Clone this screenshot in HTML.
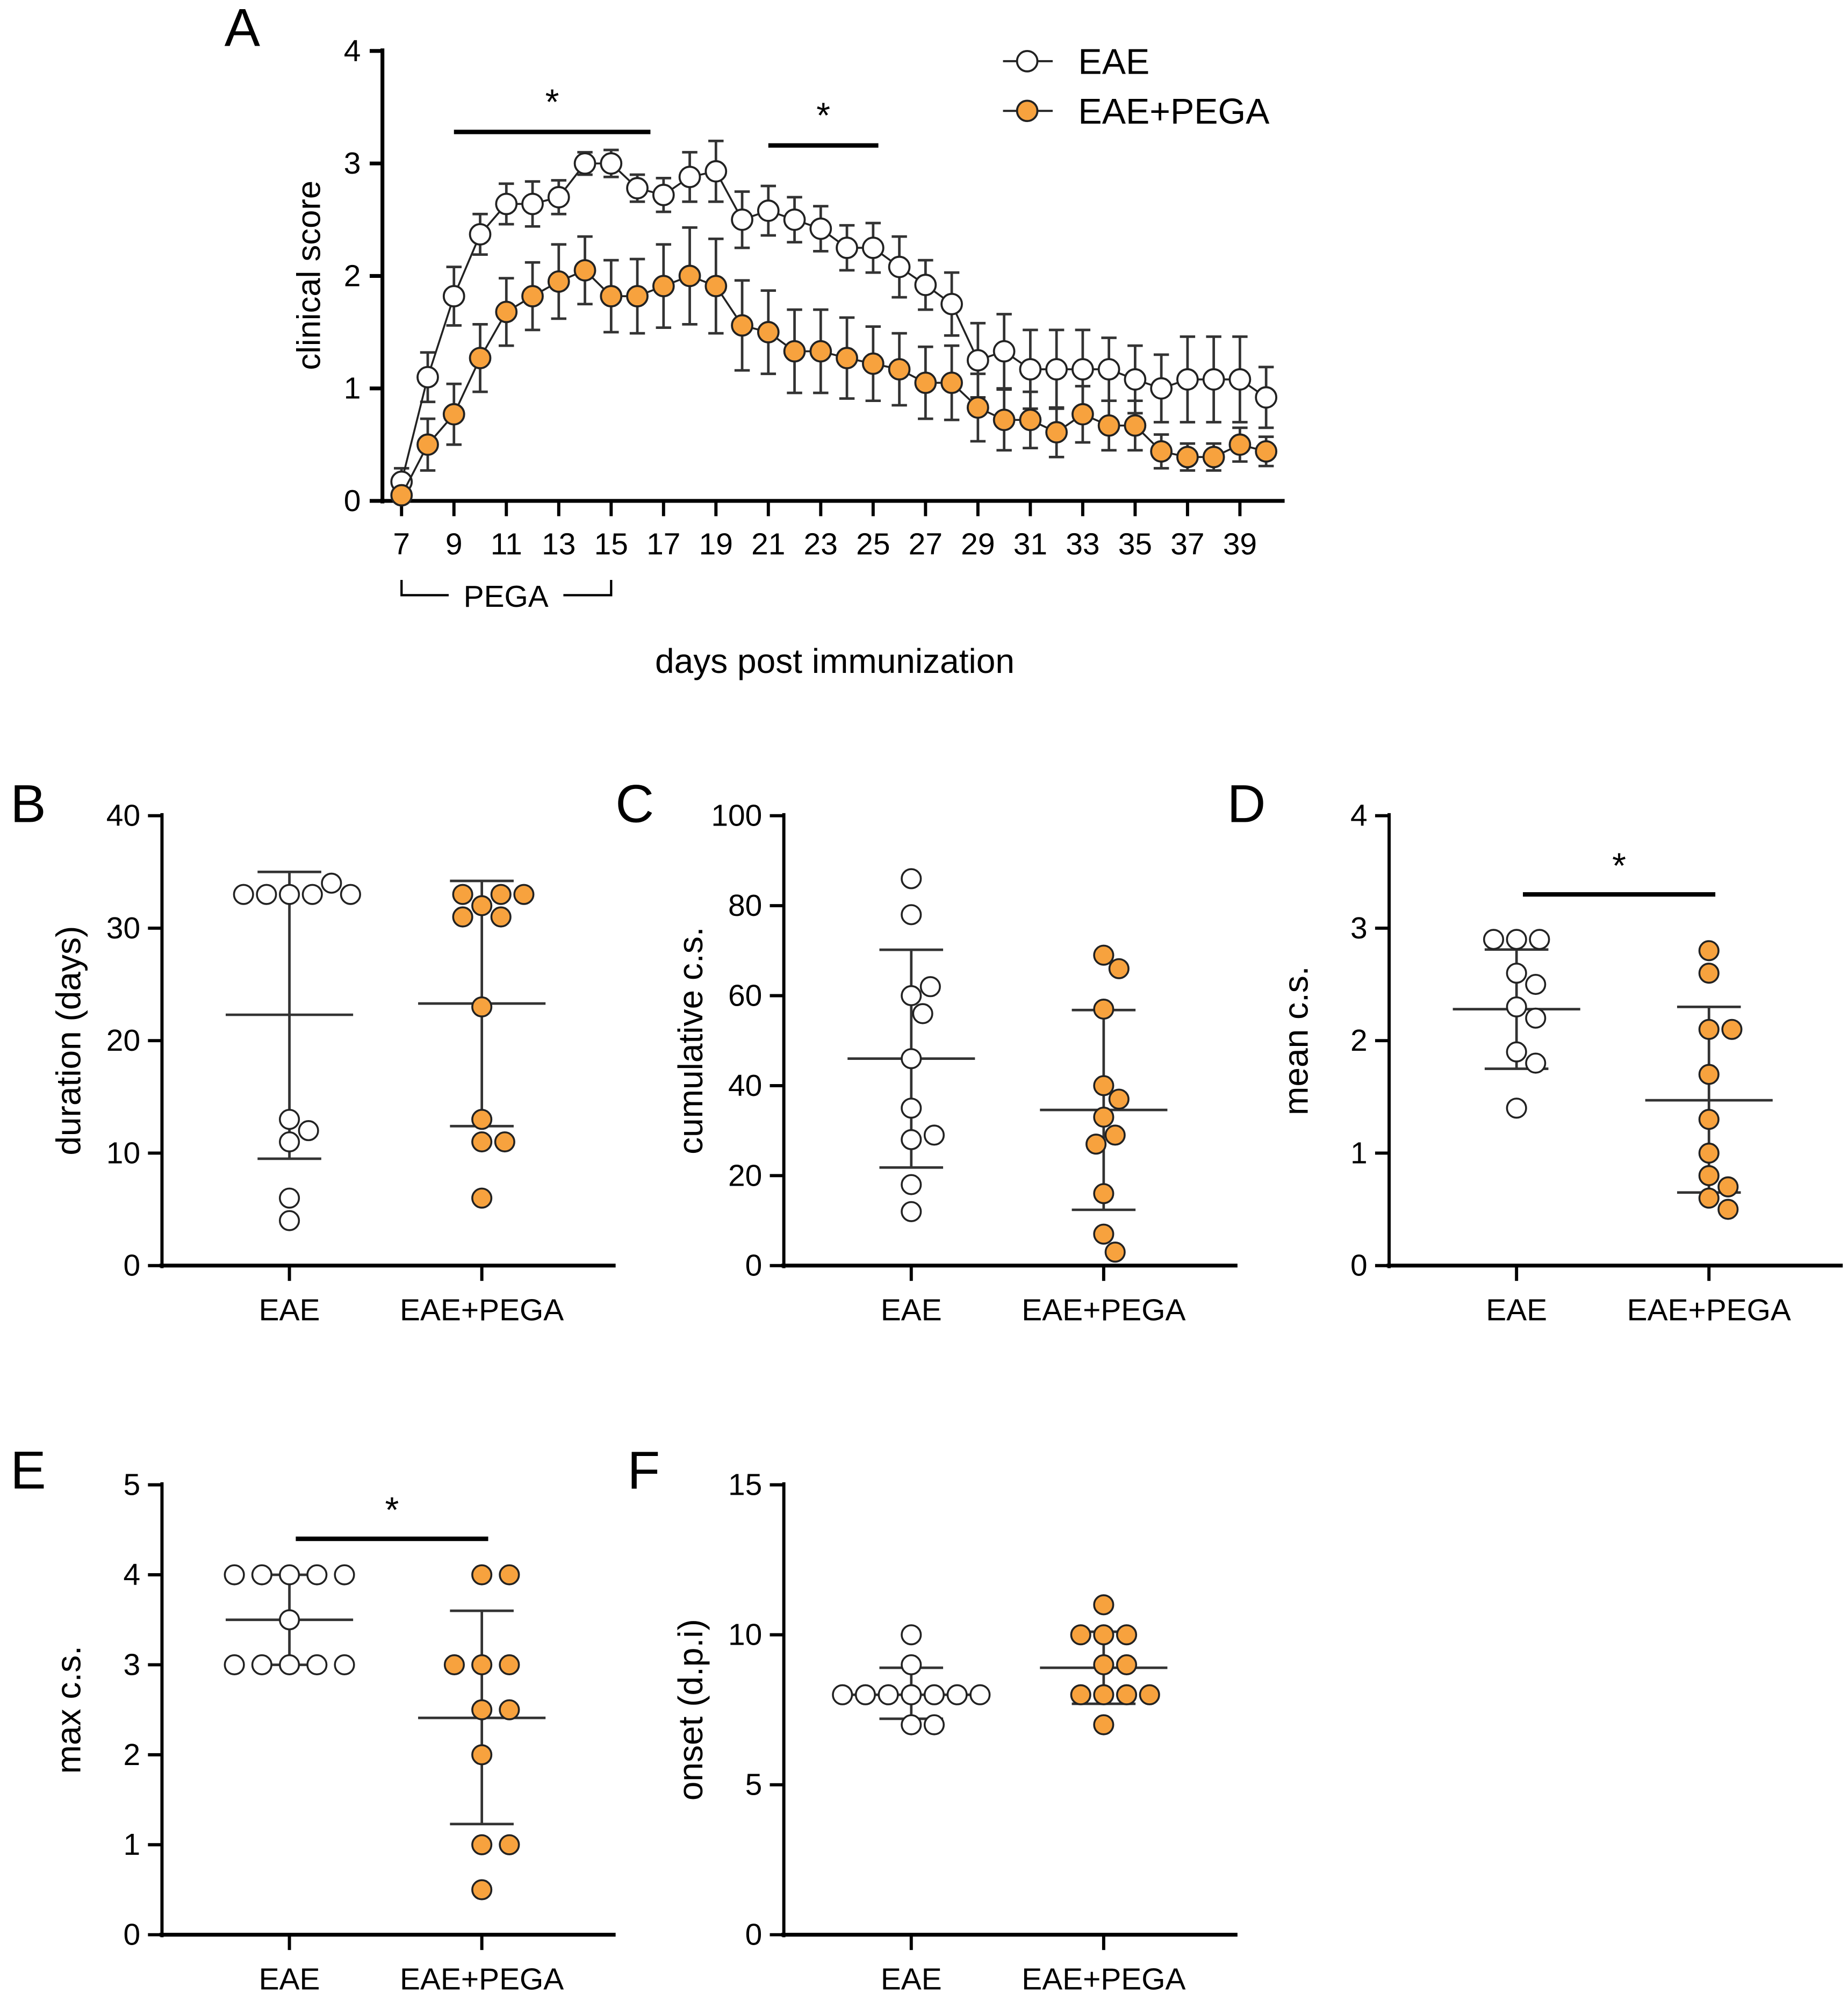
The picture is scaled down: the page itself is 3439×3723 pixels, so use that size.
<!DOCTYPE html>
<html><head><meta charset="utf-8"><style>
html,body{margin:0;padding:0;background:#fff}
svg{display:block}
text{font-family:"Liberation Sans",Arial,sans-serif;fill:#000}
</style></head><body>
<svg id="fig" width="3439" height="3723" viewBox="0 0 1450 1570" xmlns="http://www.w3.org/2000/svg">
<rect width="1450" height="1570" fill="#fff"/>
</svg>
<script>
// ---------- Panel A data ----------
const daysA = [7,8,9,10,11,12,13,14,15,16,17,18,19,20,21,22,23,24,25,26,27,28,29,30,31,32,33,34,35,36,37,38,39,40];
const eaeMean = [0.17,1.1,1.82,2.37,2.64,2.64,2.7,3.0,3.0,2.78,2.72,2.88,2.93,2.5,2.58,2.5,2.42,2.25,2.25,2.08,1.92,1.75,1.25,1.33,1.17,1.17,1.17,1.17,1.08,1.0,1.08,1.08,1.08,0.92];
const eaeErr = [0.12,0.22,0.26,0.18,0.18,0.2,0.15,0.1,0.12,0.12,0.15,0.22,0.27,0.25,0.22,0.2,0.2,0.2,0.22,0.27,0.22,0.28,0.33,0.33,0.35,0.35,0.35,0.28,0.3,0.3,0.38,0.38,0.38,0.27];
const pegaMean = [0.05,0.5,0.77,1.27,1.68,1.82,1.95,2.05,1.82,1.82,1.91,2.0,1.91,1.56,1.5,1.33,1.33,1.27,1.22,1.17,1.05,1.05,0.83,0.72,0.72,0.61,0.77,0.67,0.67,0.44,0.39,0.39,0.5,0.44];
const pegaErr = [0.05,0.23,0.27,0.3,0.3,0.3,0.33,0.3,0.32,0.33,0.37,0.43,0.42,0.4,0.37,0.37,0.37,0.36,0.33,0.32,0.32,0.33,0.3,0.27,0.25,0.22,0.25,0.22,0.22,0.15,0.12,0.12,0.15,0.13];
const ticksAX = [7,9,11,13,15,17,19,21,23,25,27,29,31,33,35,37,39];
const ticksAY = [0,1,2,3,4];
const sigA = [[9,16.5,3.28],[21,25.2,3.16]];

// ---------- Scatter panels data ----------
const groups = ["EAE","EAE+PEGA"];
const durEAE = [33,33,33,34,33,33,13,12,11,6,4];
const durPEGA = [32,33,33,33,31,31,23,13,11,11,6];
const durStats = [[22.3,35,9.5],[23.3,34.2,12.4]];
const cumEAE = [86,78,60,62,56,46,35,28,29,18,12];
const cumPEGA = [69,66,57,40,37,33,29,27,16,7,3];
const cumStats = [[46,70.2,21.8],[34.6,56.8,12.4]];
const meanEAE = [2.9,2.9,2.9,2.6,2.5,2.3,2.2,1.9,1.8,1.4];
const meanPEGA = [2.8,2.6,2.1,2.1,1.7,1.3,1.0,0.8,0.7,0.6,0.5];
const meanStats = [[2.28,2.81,1.75],[1.47,2.3,0.65]];
const maxEAE = [4,4,4,4,4,3.5,3,3,3,3,3];
const maxPEGA = [4,4,3,3,3,2.5,2.5,2,1,1,0.5];
const maxStats = [[3.5,4.0,3.0],[2.41,3.6,1.23]];
const onsEAE = [10,9,8,8,8,8,8,8,8,7,7];
const onsPEGA = [11,10,10,10,9,9,8,8,8,8,7];
const onsStats = [[8,8.9,7.2],[8.9,10.1,7.7]];

const NS="http://www.w3.org/2000/svg";
const svg=document.getElementById('fig');
function el(tag,attrs,parent){const e=document.createElementNS(NS,tag);for(const k in attrs)e.setAttribute(k,attrs[k]);(parent||svg).appendChild(e);return e;}
function txt(s,x,y,size,anchor,parent,extra){const t=el('text',Object.assign({x:x,y:y,'font-size':size,'text-anchor':anchor||'middle'},extra||{}),parent);t.textContent=s;return t;}
const ORANGE="#f7a23e";

// ---------- Panel A ----------
(function(){
  const g=el('g',{});
  
  
  const x=d=>315+(d-7)*20.56, y=v=>393-v*88.25;
  const lbl=txt('A',190,36,42,'middle',g);
  
  el('line',{x1:300,y1:38,x2:300,y2:395,stroke:'#000','stroke-width':3},g);
  el('line',{x1:298,y1:393,x2:1008,y2:393,stroke:'#000','stroke-width':3},g);
  ticksAY.forEach(v=>{el('line',{x1:290,y1:y(v),x2:300,y2:y(v),stroke:'#000','stroke-width':3},g);
    const t=txt(String(v),283,y(v)+8,24,'end',g);});
  ticksAX.forEach(d=>{el('line',{x1:x(d),y1:393,x2:x(d),y2:405,stroke:'#000','stroke-width':2.5},g);
    const t=txt(String(d),x(d),435,24,'middle',g);});
  const yl=txt('clinical score',0,0,26,'middle',g,{transform:'translate(251,216) rotate(-90)'});
  
  const xl=txt('days post immunization',655,528,27,'middle',g);
  
  const br=el('path',{d:`M${x(7)} 455 V467 H352 M442 467 H${x(15)} V455`,fill:'none',stroke:'#000','stroke-width':1.8},g);
  
  const pt=txt('PEGA',397,476,24,'middle',g);
  sigA.forEach(s=>{const l=el('line',{x1:x(s[0]),y1:y(s[2]),x2:x(s[1]),y2:y(s[2]),stroke:'#000','stroke-width':3.5},g);
    
    const st=txt('*',(x(s[0])+x(s[1]))/2,y(s[2])-14,28,'middle',g);});
  function series(m,e,fill,name){
    const sg=el('g',{},g);
    
    
    daysA.forEach((d,i)=>{const xx=x(d),t=y(m[i]+e[i]),b=y(m[i]-e[i]);
      el('path',{d:`M${xx} ${t} V${b} M${xx-6} ${t} H${xx+6} M${xx-6} ${b} H${xx+6}`,stroke:'#333','stroke-width':2,fill:'none'},sg);});
    el('polyline',{points:daysA.map((d,i)=>x(d)+','+y(m[i])).join(' '),fill:'none',stroke:'#222','stroke-width':1.5},sg);
    daysA.forEach((d,i)=>{const c=el('circle',{cx:x(d),cy:y(m[i]),r:8,fill:fill,stroke:'#222','stroke-width':1.6},sg);
      });
  }
  series(eaeMean,eaeErr,'#fff','series-eae');
  series(pegaMean,pegaErr,ORANGE,'series-eae-pega');
  [['EAE','#fff',48],['EAE+PEGA',ORANGE,87]].forEach(L=>{
    const lg=el('g',{},g);
    
    
    el('line',{x1:787,y1:L[2],x2:826,y2:L[2],stroke:'#222','stroke-width':1.6},lg);
    el('circle',{cx:806,cy:L[2],r:8,fill:L[1],stroke:'#222','stroke-width':1.6},lg);
    txt(L[0],846,L[2]+10,28,'start',lg);
  });
})();

// ---------- Scatter panels ----------
function swarm(ys,r){
  const placed=[];const res=new Array(ys.length);
  const order=ys.map((v,i)=>i);
  order.forEach(i=>{
    const yy=ys[i];let best=0;
    for(let k=0;k<200;k++){
      const off=(k%2?1:-1)*Math.ceil(k/2)*3;
      const ok=placed.every(p=>Math.hypot(p[0]-off,p[1]-yy)>=2*r+1);
      if(ok){best=off;break;}
    }
    placed.push([best,yy]);res[i]=best;
  });
  return res;
}
function scatter(cfg){
  const g=el('g',{});
  
  
  const ax=cfg.ax, y0=cfg.y0, y1=cfg.y1, ymax=cfg.ymax;
  const y=v=>y0-(v/ymax)*(y0-y1);
  const cx=[ax+100,ax+251];
  const lb=txt(cfg.letter,cfg.lx,cfg.ly,42,'middle',g);
  el('line',{x1:ax,y1:y1-2,x2:ax,y2:y0+2,stroke:'#000','stroke-width':2.5},g);
  el('line',{x1:ax-2,y1:y0,x2:ax+356,y2:y0,stroke:'#000','stroke-width':3},g);
  cfg.ticks.forEach(v=>{el('line',{x1:ax-11,y1:y(v),x2:ax,y2:y(v),stroke:'#000','stroke-width':2.5},g);
    const t=txt(String(v),ax-17,y(v)+8,24,'end',g);});
  groups.forEach((n,i)=>{el('line',{x1:cx[i],y1:y0,x2:cx[i],y2:y0+12,stroke:'#000','stroke-width':2.5},g);
    const t=txt(n,cx[i],y0+43,24,'middle',g);});
  const yt=txt(cfg.ytitle,0,0,27,'middle',g,{transform:`translate(${ax-64},${(y0+y1)/2}) rotate(-90)`});
  
  [cfg.a,cfg.b].forEach((vals,i)=>{
    const fill=i?ORANGE:'#fff';
    const st=cfg.stats[i];
    const sg=el('g',{},g);
    
    
    el('path',{d:`M${cx[i]} ${y(st[1])} V${y(st[2])} M${cx[i]-25} ${y(st[1])} H${cx[i]+25} M${cx[i]-25} ${y(st[2])} H${cx[i]+25} M${cx[i]-50} ${y(st[0])} H${cx[i]+50}`,stroke:'#333','stroke-width':2,fill:'none'},sg);
    const ys=vals.map(y);
    const offs=swarm(ys,7.5);
    vals.forEach((v,j)=>{
      const c=el('circle',{cx:cx[i]+offs[j]*(cfg.sp||1),cy:y(v),r:7.5,fill:fill,stroke:'#222','stroke-width':1.5},sg);
      });
  });
  if(cfg.sig){const l=el('line',{x1:cx[0]+5,y1:y(cfg.sig),x2:cx[1]+5,y2:y(cfg.sig),stroke:'#000','stroke-width':3.5},g);
    
    const s=txt('*',(cx[0]+cx[1])/2+5,y(cfg.sig)-13,28,'middle',g);}
}
scatter({name:'panel-b',letter:'B',lx:22,ly:645,ax:127,y0:993,y1:640,ymax:40,ticks:[0,10,20,30,40],ytitle:'duration (days)',a:durEAE,b:durPEGA,stats:durStats});
scatter({name:'panel-c',letter:'C',lx:498,ly:645,ax:615,y0:993,y1:640,ymax:100,ticks:[0,20,40,60,80,100],ytitle:'cumulative c.s.',a:cumEAE,b:cumPEGA,stats:cumStats});
scatter({name:'panel-d',letter:'D',lx:978,ly:645,ax:1090,y0:993,y1:640,ymax:4,ticks:[0,1,2,3,4],ytitle:'mean c.s.',a:meanEAE,b:meanPEGA,stats:meanStats,sig:3.3});
scatter({name:'panel-e',letter:'E',lx:22,ly:1168,ax:127,y0:1518,y1:1165,ymax:5,ticks:[0,1,2,3,4,5],ytitle:'max c.s.',a:maxEAE,b:maxPEGA,stats:maxStats,sig:4.4,sp:1.2});
scatter({name:'panel-f',letter:'F',lx:505,ly:1168,ax:615,y0:1518,y1:1165,ymax:15,ticks:[0,5,10,15],ytitle:'onset (d.p.i)',a:onsEAE,b:onsPEGA,stats:onsStats});
</script>
</body></html>
